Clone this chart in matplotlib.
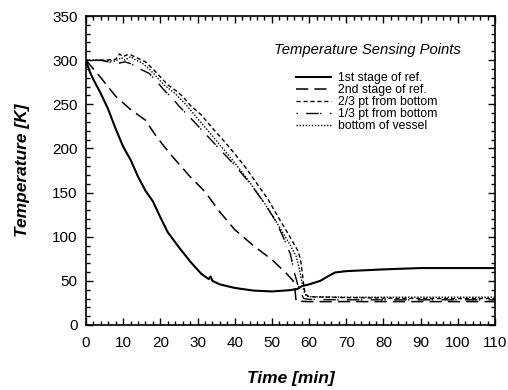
import matplotlib
matplotlib.use("Agg")
import matplotlib.pyplot as plt
from matplotlib.ticker import MultipleLocator

plt.rcParams['font.family'] = ['Liberation Sans', 'DejaVu Sans']

# 1st stage of refrigerator
t1 = [0, 1, 2, 4, 6, 8, 10, 12, 14, 16, 18, 20, 22, 25, 28, 31, 33, 33.5, 34, 36, 40, 45, 50, 55, 57, 58, 60, 63, 65, 67, 70, 75, 80, 90, 100, 110]
T1 = [300, 287, 278, 262, 244, 222, 202, 187, 168, 152, 140, 122, 105, 88, 72, 58, 52, 55, 50, 46, 42, 39, 38, 39.5, 41, 44, 46, 50, 55, 59.5, 61, 62, 63, 64.5, 64.5, 64.5]

# 2nd stage of refrigerator
t2 = [0, 4, 8, 12, 16, 19, 23, 28, 32, 36, 40, 45, 50, 54, 55.7, 56.2, 56.5, 60, 70, 80, 90, 100, 110]
T2 = [300, 280, 259, 244, 232, 213, 192, 168, 151, 128, 108, 90, 74, 58, 50, 40, 27, 26.5, 26.5, 26.5, 26.5, 26.5, 26.5]

# 2/3 point from bottom
t3 = [0, 5, 8, 9, 10, 11, 12, 13, 14, 16, 18, 20, 22, 24, 26, 28, 31, 34, 37, 40, 43, 46, 49, 52, 54, 55.5, 57, 57.7, 58.2, 58.6, 59, 60, 70, 80, 90, 100, 110]
T3 = [300, 300, 301, 307, 304, 306, 306, 304, 302, 298, 290, 281, 272, 266, 259, 249, 238, 223, 209, 194, 178, 160, 142, 120, 106, 95, 84, 74, 58, 43, 35, 32, 31, 30.5, 30, 30, 30]

# 1/3 point from bottom
t4 = [0, 4, 8, 10.5, 12, 13.6, 15, 17, 19, 21, 23, 25, 28, 32, 36, 40, 44, 48, 51, 53, 55, 56, 57, 57.7, 58.5, 60, 70, 80, 90, 100, 110]
T4 = [300, 300, 296, 298, 296, 292, 289, 285, 276, 266, 258, 248, 235, 217, 199, 181, 161, 138, 118, 100, 80, 60, 45, 38, 30, 29, 28.5, 28.5, 28.5, 28.5, 28.5]

# bottom of vessel
t5 = [0, 8, 9.5, 10.5, 12, 13, 15, 17, 19, 21, 24, 27, 30, 33, 36, 39, 42, 45, 48, 51, 53, 55, 56.5, 57.3, 58, 58.6, 59.2, 60, 70, 80, 90, 100, 110]
T5 = [300, 299, 303, 300, 304, 301, 297, 290, 281, 272, 262, 249, 234, 219, 204, 189, 173, 156, 138, 118, 104, 90, 78, 65, 50, 38, 33, 32, 31.5, 31.5, 31.5, 31.5, 31.5]

labels = ["1st stage of ref.", "2nd stage of ref.", "2/3 pt from bottom",
          "1/3 pt from bottom", "bottom of vessel"]
legend_title = "Temperature Sensing Points"

fig = plt.figure(figsize=(5.08, 3.90), dpi=100)
ax = fig.add_axes([86/508, 1 - 325/390, (495-86)/508, (325-16)/390])

ax.plot(t1, T1, color='black', lw=1.5, ls='-', label=labels[0])
ax.plot(t2, T2, color='black', lw=1.1, ls=(0, (8, 4)), label=labels[1])
ax.plot(t3, T3, color='black', lw=1.0, ls=(0, (3, 2)), label=labels[2])
ax.plot(t4, T4, color='black', lw=1.0, ls=(0, (1, 6, 9, 1)), label=labels[3])
ax.plot(t5, T5, color='black', lw=1.0, ls=(0, (1, 1.2)), label=labels[4])

ax.set_xlim(0, 110)
ax.set_ylim(0, 350)
ax.xaxis.set_major_locator(MultipleLocator(10))
ax.xaxis.set_minor_locator(MultipleLocator(2))
ax.yaxis.set_major_locator(MultipleLocator(50))
ax.yaxis.set_minor_locator(MultipleLocator(10))
ax.tick_params(which='both', direction='in', top=True, right=True, width=1.0)
ax.tick_params(which='major', length=5, labelsize=11)
ax.tick_params(axis='x', which='major', pad=8)
ax.tick_params(axis='y', which='major', pad=6)
ax.tick_params(which='minor', length=3)
for s in ax.spines.values():
    s.set_linewidth(1.2)

ax.set_xlabel("Time [min]", fontsize=12.5, fontweight='bold', fontstyle='italic', labelpad=15)
ax.set_ylabel("Temperature [K]", fontsize=12.5, fontweight='bold', fontstyle='italic', labelpad=16)

ax.text((367-86)/409, (325-50)/309, legend_title, transform=ax.transAxes,
        ha='center', va='center', fontsize=10.7, fontstyle='italic')

leg = ax.legend(loc='upper left', bbox_to_anchor=((296-86)/409, (325-72)/309), frameon=False,
                fontsize=8.8, borderpad=0, borderaxespad=0,
                handlelength=2.9, handletextpad=0.55, labelspacing=0.0)

fig.savefig("out.png", dpi=100)
